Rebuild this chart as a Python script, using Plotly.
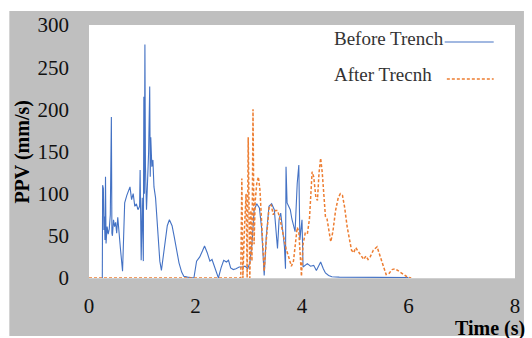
import plotly.graph_objects as go

# PPV records before the trench was dug
t_before = [0.25, 0.256, 0.27, 0.28, 0.29, 0.30, 0.31, 0.32, 0.34, 0.36, 0.38, 0.40, 0.42, 0.43, 0.44,
            0.46, 0.48, 0.50, 0.52, 0.54, 0.56, 0.59, 0.63, 0.67, 0.71, 0.75, 0.77, 0.80, 0.83, 0.86,
            0.89, 0.92, 0.95, 0.96, 0.98, 1.00, 1.02, 1.03, 1.04, 1.05, 1.06, 1.08, 1.10, 1.12, 1.14,
            1.15, 1.16, 1.18, 1.20, 1.22, 1.25, 1.29, 1.33, 1.36, 1.42, 1.47, 1.51, 1.56, 1.60, 1.65,
            1.69, 1.74, 1.78, 1.85, 1.97, 2.02, 2.08, 2.13, 2.17, 2.22, 2.27, 2.31, 2.35, 2.40, 2.43,
            2.48, 2.53, 2.58, 2.62, 2.66, 2.71, 2.76, 2.82, 2.88, 2.93, 2.98, 3.02, 3.06, 3.10, 3.15,
            3.20, 3.24, 3.29, 3.33, 3.38, 3.43, 3.48, 3.52, 3.54, 3.57, 3.60, 3.64, 3.67, 3.69, 3.70,
            3.72, 3.75, 3.78, 3.81, 3.84, 3.87, 3.91, 3.94, 3.96, 3.98, 4.00, 4.02, 4.06, 4.10, 4.16,
            4.22, 4.27, 4.31, 4.35, 4.40, 4.44, 4.50, 4.56, 4.70, 5.00, 5.50, 6.00]
ppv_before = [0, 110, 106, 57, 73, 45, 120, 41, 61, 52, 58, 75, 191, 53, 50,
              69, 61, 66, 53, 72, 55, 35, 8, 89, 98, 104, 108, 93, 100, 85,
              88, 81, 85, 128, 21, 95, 20, 215, 100, 277, 132, 81, 110, 150, 227,
              120, 167, 132, 140, 108, 95, 61, 20, 9, 41, 62, 69, 62, 49, 33,
              18, 7, 2, 1, 0, 20, 25, 32, 38, 30, 20, 22, 15, 5, 0,
              12, 21, 19, 21, 12, 10, 11, 13, 13, 14, 11, 18, 40, 80, 88,
              83, 60, 3, 50, 85, 88, 81, 50, 35, 70, 77, 55, 37, 11, 132,
              89, 85, 81, 70, 61, 55, 112, 134, 45, 60, 69, 13, 15, 17, 14,
              15, 9, 14, 19, 11, 6, 3, 1.5, 1, 1, 1, 0.5]

# PPV records after the trench was dug
t_after = [0.0, 2.85, 2.87, 2.89, 2.92, 2.95, 2.97, 2.99, 3.02, 3.04, 3.06, 3.08, 3.10, 3.12, 3.15,
           3.18, 3.21, 3.25, 3.29, 3.33, 3.38, 3.42, 3.46, 3.50, 3.54, 3.58, 3.62, 3.66, 3.70, 3.75,
           3.80, 3.84, 3.88, 3.91, 3.94, 3.97, 3.99, 4.02, 4.06, 4.10, 4.14, 4.19, 4.22, 4.26, 4.29,
           4.32, 4.35, 4.38, 4.41, 4.44, 4.47, 4.50, 4.54, 4.58, 4.63, 4.68, 4.72, 4.76, 4.80, 4.85,
           4.89, 4.93, 4.97, 5.01, 5.05, 5.10, 5.16, 5.20, 5.24, 5.28, 5.34, 5.41, 5.46, 5.52, 5.58,
           5.63, 5.69, 5.75, 5.82, 5.90, 5.97, 6.05]
ppv_after = [0, 0, 118, 0, 60, 100, 0, 167, 0, 80, 20, 200, 40, 90, 112,
             120, 105, 60, 8, 45, 83, 87, 75, 80, 80, 72, 60, 45, 35, 25,
             14, 20, 45, 60, 55, 30, 2, 40, 53, 52, 70, 126, 120, 96, 92,
             125, 142, 125, 95, 73, 70, 60, 43, 55, 80, 95, 100, 98, 84, 60,
             45, 33, 30, 36, 32, 28, 22, 26, 22, 25, 33, 37, 28, 15, 4,
             5, 10, 11, 8, 4, 1.5, 0]

x_ticks = [0, 2, 4, 6, 8]
y_ticks = [0, 50, 100, 150, 200, 250, 300]
series_names = ["Before Trench", "After Trecnh"]
series_colors = ["#4472C4", "#ED7D31"]

SERIF = "Liberation Serif"
PANEL = "#bfbfbf"

fig = go.Figure()
fig.add_trace(go.Scatter(x=t_before, y=ppv_before, mode="lines", name=series_names[0],
                         line=dict(color=series_colors[0], width=1.1)))
fig.add_trace(go.Scatter(x=t_after, y=ppv_after, mode="lines", name=series_names[1],
                         line=dict(color=series_colors[1], width=1.5, dash="3px,2px")))

# thin white margins around the grey chart panel
edge = dict(type="rect", xref="paper", yref="paper", fillcolor="white",
            line=dict(width=0), layer="above")
shapes = [
    dict(edge, x0=-0.25, x1=-0.187, y0=-0.3, y1=1.2),
    dict(edge, x0=-0.25, x1=1.1, y0=1.055, y1=1.2),
    dict(edge, x0=1.021, x1=1.1, y0=-0.3, y1=1.2),
    dict(edge, x0=-0.25, x1=1.1, y0=-0.3, y1=-0.229),
    # legend line samples
    dict(type="line", xref="paper", yref="paper", x0=0.835, x1=0.950, y0=0.933, y1=0.933,
         line=dict(color=series_colors[0], width=1.1)),
    dict(type="line", xref="paper", yref="paper", x0=0.840, x1=0.950, y0=0.787, y1=0.787,
         line=dict(color=series_colors[1], width=1.5, dash="3px,2px")),
]

annotations = [
    dict(text=series_names[0], xref="paper", yref="paper", x=0.57, y=0.945, xanchor="left",
         yanchor="middle", showarrow=False, font=dict(family=SERIF, size=19, color="#333")),
    dict(text=series_names[1], xref="paper", yref="paper", x=0.57, y=0.806, xanchor="left",
         yanchor="middle", showarrow=False, font=dict(family=SERIF, size=19, color="#333")),
    dict(text="<b>Time (s)</b>", xref="paper", yref="paper", x=1.028, y=-0.198, xanchor="right",
         yanchor="middle", showarrow=False, font=dict(family=SERIF, size=20, color="#000")),
    dict(text="<b>PPV (mm/s)</b>", xref="paper", yref="paper", x=-0.157, y=0.5, xanchor="center",
         yanchor="middle", textangle=-90, showarrow=False,
         font=dict(family=SERIF, size=20, color="#000")),
]

fig.update_layout(
    width=532, height=338,
    margin=dict(l=89, r=15, t=25, b=60),
    paper_bgcolor=PANEL, plot_bgcolor="white",
    showlegend=False,
    shapes=shapes, annotations=annotations,
    xaxis=dict(range=[0, 8], tickvals=x_ticks, showgrid=False, zeroline=False,
               showline=True, linecolor="#d0d0d0", linewidth=1,
               ticks="", ticklabelstandoff=9,
               tickfont=dict(family=SERIF, size=21, color="#111")),
    yaxis=dict(range=[0, 300], tickvals=y_ticks, showgrid=False, zeroline=False,
               showline=False, ticks="", ticklabelstandoff=19,
               tickfont=dict(family=SERIF, size=21, color="#111")),
)

fig.write_html("out.html")
